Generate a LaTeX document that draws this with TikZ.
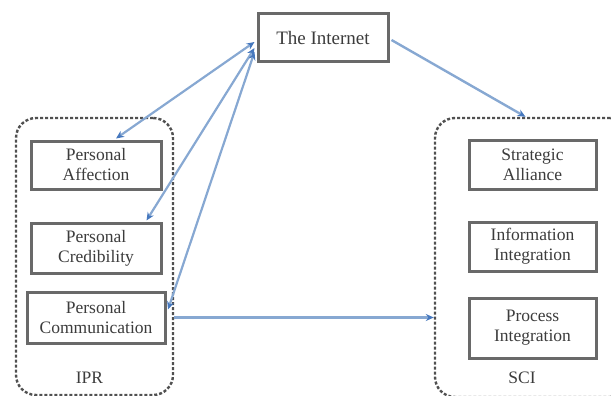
\documentclass[tikz,border=0pt]{standalone}
\usepackage{fontspec}
\setmainfont{Liberation Serif}
\usetikzlibrary{arrows.meta,calc}
\definecolor{boxgray}{RGB}{105,105,105}
\definecolor{dashgray}{RGB}{80,80,80}
\definecolor{linkblue}{RGB}{135,168,210}
\definecolor{tipblue}{RGB}{70,120,190}
\definecolor{txtgray}{RGB}{60,60,60}
\begin{document}
\begin{tikzpicture}[x=1pt,y=-1pt,
  box/.style={draw=boxgray,line width=3pt,fill=white,inner sep=0pt,align=center,text=txtgray,font=\fontsize{17.5}{20}\selectfont},
  group/.style={draw=dashgray,line width=2.4pt,dash pattern=on 3pt off 2pt,rounded corners=20pt,inner sep=0pt},
  lbl/.style={text=txtgray,font=\fontsize{17.5}{20}\selectfont},
  link/.style={draw=linkblue,line width=2.4pt,-{Stealth[length=8pt,width=7pt,color=tipblue]}},
  biglink/.style={draw=linkblue,line width=2.2pt,{Stealth[length=8pt,width=7pt,color=tipblue]}-{Stealth[length=8pt,width=7pt,color=tipblue]}}
]
\useasboundingbox (0,0) rectangle (611,396);
\clip (0,0) rectangle (611,396);
% containers
\node[group,minimum width=157pt,minimum height=277pt] (ipr) at (94.5,256.5) {};
\node[group,minimum width=195pt,minimum height=279pt] (sci) at (532.5,257.5) {};
% boxes
\node[box,minimum width=130pt,minimum height=48pt] (inet) at (323,38) {\fontsize{19}{22}\selectfont The Internet};
\node[box,minimum width=130pt,minimum height=48pt] (aff) at (96,165) {Personal\\Affection};
\node[box,minimum width=130pt,minimum height=50pt] (cred) at (96,248) {Personal\\Credibility};
\node[box,minimum width=138pt,minimum height=51pt] (comm) at (96,317.5) {Personal\\Communication};
\node[box,minimum width=127pt,minimum height=49pt] (strat) at (532.5,164.5) {Strategic\\Alliance};
\node[box,minimum width=127pt,minimum height=49pt] (info) at (532.5,246.5) {Information\\Integration};
\node[box,minimum width=127pt,minimum height=60pt] (proc) at (532.5,328) {Process\\Integration};
\node[lbl] (iprl) at (89.5,378) {IPR};
\node[lbl] (scil) at (522,378) {SCI};
% connectors
\draw[biglink] ($(inet.west)+(-2,4)$) -- ($(aff.north)+(20,-1)$);
\draw[biglink] ($(inet.west)+(-2,10)$) -- ($(cred.north east)+(-16,-1)$);
\draw[biglink] ($(inet.west)+(-2,14)$) -- ($(comm.east)+(1.5,-8)$);
\draw[link] ($(inet.east)+(2,2)$) -- ($(sci.north)+(-7,0)$);
\draw[link] (comm.east -| ipr.east) -- (comm.east -| sci.west);
\end{tikzpicture}
\end{document}
